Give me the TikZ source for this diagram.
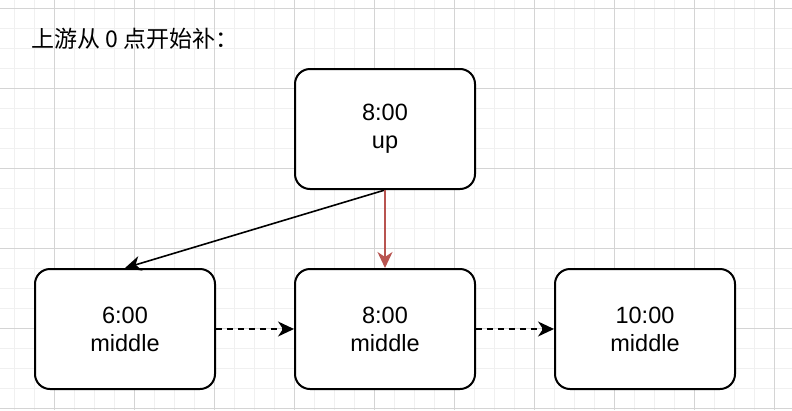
\documentclass[tikz,border=0pt]{standalone}
\usepackage{fontspec}
\setmainfont{Liberation Sans}
\newfontfamily\cjk{Noto Sans CJK SC}
\usetikzlibrary{arrows.meta, positioning}
\definecolor{gridminor}{HTML}{F0F0F0}
\definecolor{gridmajor}{HTML}{D4D4D4}
\definecolor{upred}{HTML}{B85450}

\begin{document}
\begin{tikzpicture}[
    x=1pt, y=-1pt,
    node distance=78pt,
    every node/.style={font=\fontsize{23.5}{28}\selectfont},
    slot/.style={draw, line width=2pt, rounded corners=15pt, fill=white, minimum width=180pt, minimum height=120pt, align=center},
    arr/.style={-{Stealth[length=16pt, width=15pt, inset=5pt]}, line width=1.6pt},
]
    % Background and grid
    \fill[white] (0,0) rectangle (792,410);
    \useasboundingbox (0,0) rectangle (792,410);
    \foreach \x in {14,34,...,794} \draw[gridminor, line width=1pt] (\x,0) -- (\x,410);
    \foreach \y in {8,28,...,410} \draw[gridminor, line width=1pt] (0,\y) -- (792,\y);
    \foreach \x in {54,134,...,794} \draw[gridmajor, line width=1pt] (\x,0) -- (\x,410);
    \foreach \y in {8,88,...,410} \draw[gridmajor, line width=1pt] (0,\y) -- (792,\y);

    % Title
    \node[anchor=west, inner sep=0pt, font=\fontsize{23}{28}\selectfont] (title) at (31,39) {\cjk 上游从 0 点开始补：};

    % Boxes
    \node[slot] (up) at (385,129) {8:00\\up};
    \node[slot, below=of up] (mid) {8:00\\middle};
    \node[slot, left=of mid] (early) {6:00\\middle};
    \node[slot, right=of mid] (late) {10:00\\middle};

    % Arrows
    \draw[arr] (up.south) -- (early.north);
    \draw[arr, upred] (up.south) -- (mid.north);
    \draw[arr, dashed, dash pattern=on 6pt off 5pt] (early) -- (mid);
    \draw[arr, dashed, dash pattern=on 6pt off 5pt] (mid) -- (late);
\end{tikzpicture}
\end{document}
